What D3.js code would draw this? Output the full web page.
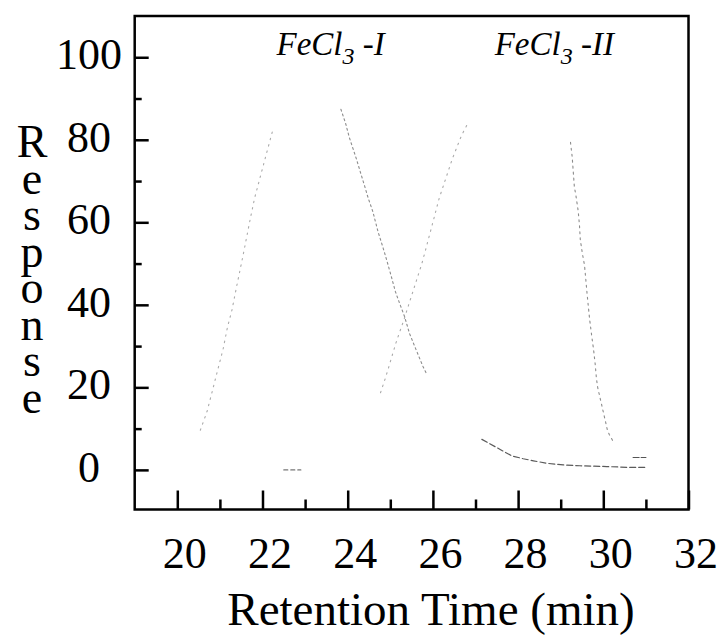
<!DOCTYPE html>
<html>
<head>
<meta charset="utf-8">
<script src="https://cdn.jsdelivr.net/npm/d3@7"></script>
<style>
  html, body { margin: 0; padding: 0; background: #fff; }
  svg { display: block; }
  text { font-family: "Liberation Serif", "Times New Roman", serif; fill: #000; }
  .vtitle { writing-mode: vertical-rl; text-orientation: upright; }
</style>
</head>
<body>
<svg id="chart" width="724" height="635"></svg>
<script>
// Retention time (min) / response readings for each trace segment
const peak1RiseTime = [20.54, 20.70, 21.08, 21.18, 21.28, 21.39, 21.55, 21.71, 21.82, 22.25];
const peak1RiseResp = [9.6, 14.2, 29.5, 34.7, 38.6, 44.3, 52.3, 60.7, 66.1, 82.7];

const peak1FallTime = [23.84, 23.95, 24.04, 24.20, 24.27, 24.40, 24.48, 24.59, 24.71, 24.81,
                       24.92, 25.02, 25.12, 25.21, 25.33, 25.45, 25.59, 25.77, 25.85];
const peak1FallResp = [87.4, 84.0, 80.5, 75.5, 73.1, 68.7, 65.9, 62.6, 57.8, 54.5,
                       50.7, 47.0, 43.2, 40.6, 37.3, 33.1, 29.5, 25.0, 23.3];

const peak2RiseTime = [24.77, 24.89, 25.13, 25.32, 25.62, 25.73, 25.81, 26.15, 26.46, 26.67, 26.84];
const peak2RiseResp = [18.7, 22.4, 30.7, 36.4, 46.1, 49.6, 52.6, 65.9, 75.5, 81.0, 84.4];

const peak2FallTime = [29.23, 29.27, 29.32, 29.36, 29.41, 29.44, 29.46, 29.51, 29.56, 29.62,
                       29.68, 29.73, 29.77, 29.81, 29.84, 29.87, 30.10, 30.14, 30.23];
const peak2FallResp = [79.4, 75.8, 68.7, 66.3, 62.8, 59.4, 55.8, 52.4, 49.5, 42.6,
                       36.4, 32.3, 29.3, 25.6, 22.0, 19.9, 9.5, 8.6, 6.9];

const tailTime = [27.15, 27.64, 27.85, 28.12, 28.36, 28.67, 29.06, 29.45, 30.08, 30.63, 31.02];
const tailResp = [7.4, 4.6, 3.4, 2.7, 2.2, 1.6, 1.2, 1.0, 0.8, 0.6, 0.6];

const base1Time = [22.5, 22.9];
const base1Resp = [0.0, 0.0];
const base2Time = [30.7, 31.0];
const base2Resp = [3.0, 3.0];

// Axis ticks and labels
const xMajorTicks = [20, 22, 24, 26, 28, 30, 32];
const xMinorTicks = [21, 23, 25, 27, 29, 31];
const yMajorTicks = [0, 20, 40, 60, 80, 100];
const yMinorTicks = [10, 30, 50, 70, 90];
const yTitle = "Response";
const xTitle = "Retention Time (min)";
const peakLabels = [
  { name: "FeCl", sub: "3", suffix: " -I", time: 23.6 },
  { name: "FeCl", sub: "3", suffix: " -II", time: 28.85 }
];

const svg = d3.select("#chart");
const plotLeft = 134.7, plotRight = 688.5, plotTop = 16, plotBottom = 509.5;

const x = d3.scaleLinear().domain([19, 32]).range([plotLeft, plotRight]);
const y = d3.scaleLinear().domain([-9.6, 110]).range([plotBottom, plotTop]);

// Traces: faint, broken grey lines
const line = d3.line().x(d => x(d[0])).y(d => y(d[1])).curve(d3.curveLinear);
const zip = (a, b) => a.map((v, i) => [v, b[i]]);

const traces = [
  { t: peak1RiseTime, r: peak1RiseResp, color: "#aaa", dash: "1.5 5", w: 1.1 },
  { t: peak1FallTime, r: peak1FallResp, color: "#8c8c8c", dash: "2 3", w: 1.1 },
  { t: peak2RiseTime, r: peak2RiseResp, color: "#aaa", dash: "1.5 5", w: 1.1 },
  { t: peak2FallTime, r: peak2FallResp, color: "#8c8c8c", dash: "2 4", w: 1.1 },
  { t: tailTime, r: tailResp, color: "#5a5a5a", dash: "6 3", w: 1.2 },
  { t: base1Time, r: base1Resp, color: "#777", dash: "4 3", w: 1.2 },
  { t: base2Time, r: base2Resp, color: "#555", dash: "6 2", w: 1.2 }
];

svg.append("g").selectAll("path")
  .data(traces)
  .join("path")
  .attr("d", d => line(zip(d.t, d.r)))
  .attr("fill", "none")
  .attr("stroke", d => d.color)
  .attr("stroke-width", d => d.w)
  .attr("stroke-dasharray", d => d.dash)
  .attr("stroke-linecap", "round");

// Frame
svg.append("rect")
  .attr("x", plotLeft).attr("y", plotTop)
  .attr("width", plotRight - plotLeft).attr("height", plotBottom - plotTop)
  .attr("fill", "none").attr("stroke", "#000").attr("stroke-width", 2.5);

// Bottom axis: inward ticks
const xMajor = svg.append("g").attr("transform", `translate(0,${plotBottom})`)
  .call(d3.axisBottom(x).tickValues(xMajorTicks).tickSize(-19).tickFormat(d3.format("d")));
const xMinor = svg.append("g").attr("transform", `translate(0,${plotBottom})`)
  .call(d3.axisBottom(x).tickValues(xMinorTicks).tickSize(-10).tickFormat(""));

// Left axis: inward ticks
const yMajor = svg.append("g").attr("transform", `translate(${plotLeft},0)`)
  .call(d3.axisLeft(y).tickValues(yMajorTicks).tickSize(-14).tickFormat(d3.format("d")));
const yMinor = svg.append("g").attr("transform", `translate(${plotLeft},0)`)
  .call(d3.axisLeft(y).tickValues(yMinorTicks).tickSize(-7).tickFormat(""));

[xMajor, xMinor, yMajor, yMinor].forEach(g => {
  g.select(".domain").remove();
  g.selectAll(".tick line").attr("stroke", "#000").attr("stroke-width", 2.5);
});

xMajor.selectAll(".tick text")
  .attr("font-family", "Liberation Serif, Times New Roman, serif")
  .attr("font-size", 44)
  .attr("fill", "#000")
  .attr("y", 58).attr("dy", 0)
  .attr("x", 7);

yMajor.selectAll(".tick text")
  .attr("font-family", "Liberation Serif, Times New Roman, serif")
  .attr("font-size", 44)
  .attr("fill", "#000")
  .attr("text-anchor", "middle")
  .attr("x", 89 - plotLeft)
  .attr("dy", "0.26em");

// Y title: upright letters stacked in a vertical run
svg.append("text")
  .attr("class", "vtitle")
  .attr("x", 32)
  .attr("y", 116)
  .attr("font-size", 46)
  .style("letter-spacing", "-14.5px")
  .text(yTitle);

// X title
svg.append("text")
  .attr("x", 431)
  .attr("y", 625)
  .attr("text-anchor", "middle")
  .attr("font-size", 47)
  .text(xTitle);

// Peak annotations
const ann = svg.append("g").selectAll("text")
  .data(peakLabels)
  .join("text")
  .attr("x", d => x(d.time))
  .attr("y", 55)
  .attr("text-anchor", "middle")
  .attr("font-size", 33)
  .attr("font-style", "italic");
ann.append("tspan").text(d => d.name);
ann.append("tspan").attr("font-size", 24).attr("dy", 9).text(d => d.sub);
ann.append("tspan").attr("dy", -9).text(d => d.suffix);
</script>
</body>
</html>
